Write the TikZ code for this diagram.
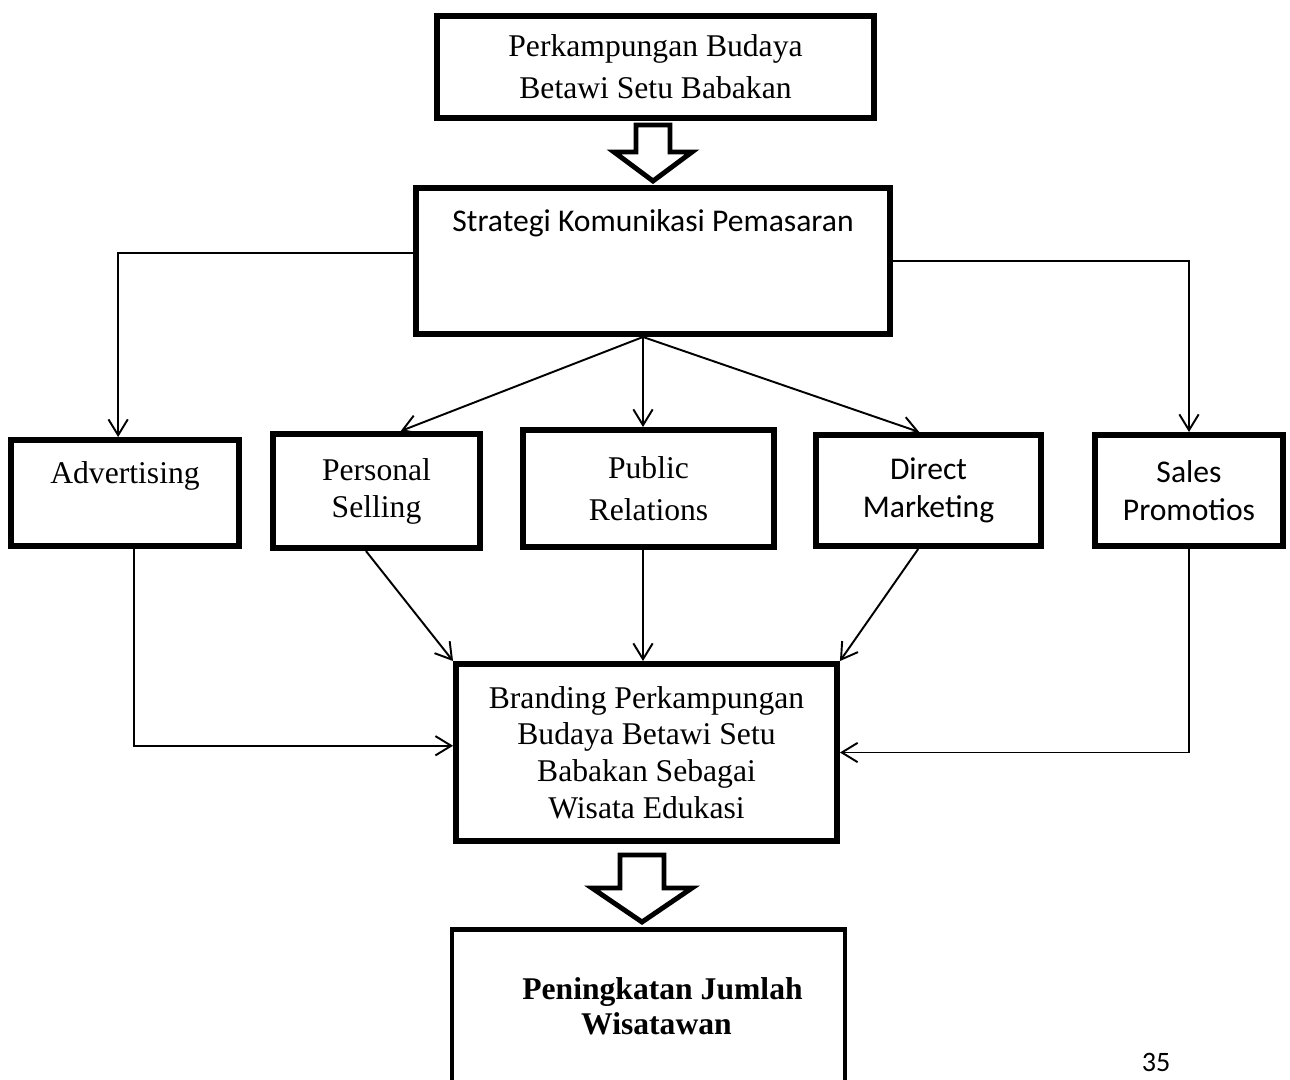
\documentclass[tikz,border=0pt]{standalone}
\usepackage{fontspec}
\setmainfont{Liberation Serif}
\newfontfamily\calibri{Carlito}
\usepackage{tikz}
\usetikzlibrary{arrows.meta}
\tikzstyle{box}=[rectangle, draw=black, line width=3.4pt, inner sep=0pt, align=center,
        font=\fontsize{18}{21}\selectfont]
\tikzstyle{boxc}=[box, font=\calibri\fontsize{18}{21.5}\selectfont]
\tikzstyle{line}=[draw=black, line width=1.1pt, -{Straight Barb[length=9pt,width=11pt]}]
\tikzstyle{fat}=[draw=black, line width=2.8pt, line join=miter]

\begin{document}
\begin{tikzpicture}[x=0.02cm, y=-0.02cm]
\useasboundingbox (0,0) rectangle (1290,1079);
% kotak-kotak
\node [box, minimum width=8.74cm, minimum height=2.04cm, font=\fontsize{18}{23.8}\selectfont] (perkampungan) at (655.5,67) {Perkampungan Budaya\\Betawi Setu Babakan};
\node [boxc, minimum width=9.48cm, text height=0.86cm, text depth=2.06cm] (strategi) at (653,261) {Strategi Komunikasi Pemasaran};
\node [box, minimum width=4.56cm, text height=0.86cm, text depth=1.26cm] (advertising) at (125,493) {Advertising};
\node [box, minimum width=4.14cm, minimum height=2.28cm] (personal) at (376.5,491) {Personal\\Selling};
\node [box, minimum width=5.02cm, minimum height=2.34cm, font=\fontsize{18}{23.8}\selectfont] (public) at (648.5,488.5) {Public\\Relations};
\node [boxc, minimum width=4.5cm, minimum height=2.22cm] (direct) at (928.5,490.5) {Direct\\Marketing};
\node [boxc, minimum width=3.76cm, minimum height=2.22cm] (sales) at (1189,490.5) {Sales\\Promotios};
\node [box, minimum width=7.62cm, minimum height=3.54cm, font=\fontsize{18}{20.8}\selectfont] (branding) at (646.5,752.5) {Branding Perkampungan\\Budaya Betawi Setu\\Babakan Sebagai\\Wisata Edukasi};
\node [box, line width=2.6pt, text width=7.86cm, align=flush center, text height=1.4cm, text depth=3cm, anchor=north, font=\bfseries\fontsize{18}{20}\selectfont] (peningkatan) at (648.5,927) {\hspace*{0.56cm}Peningkatan Jumlah\\\hspace*{0.32cm}Wisatawan};
\node [font=\calibri\fontsize{16}{19}\selectfont, inner sep=0pt, anchor=base] (halaman) at (1156,1071) {35};

% panah besar
\draw[fat] (636,125) -- (670,125) -- (670,152) -- (692,152) -- (653,181) -- (614,152) -- (636,152) -- cycle;
\draw[fat] (620,855) -- (664,855) -- (664,888) -- (692,888) -- (642,922) -- (592,888) -- (620,888) -- cycle;

% garis penghubung
\coordinate (pusat) at ([xshift=-0.2cm]strategi.south);
\draw[line] (strategi.178) -| (advertising.97);
\draw[line] (strategi.east) -| (sales.north);
\draw[line] (pusat) -- (personal.68);
\draw[line] (pusat) -- (pusat |- public.north);
\draw[line] (pusat) -- (direct.99);
\draw[line] (advertising.-81) |- (branding.178);
\draw[line] (personal.-100) -- (branding.north west);
\draw[line] (pusat |- public.south) -- (pusat |- branding.north);
\draw[line] (direct.-100) -- (branding.north east);
\draw[line] (sales.south) |- (branding.east);
\end{tikzpicture}
\end{document}
